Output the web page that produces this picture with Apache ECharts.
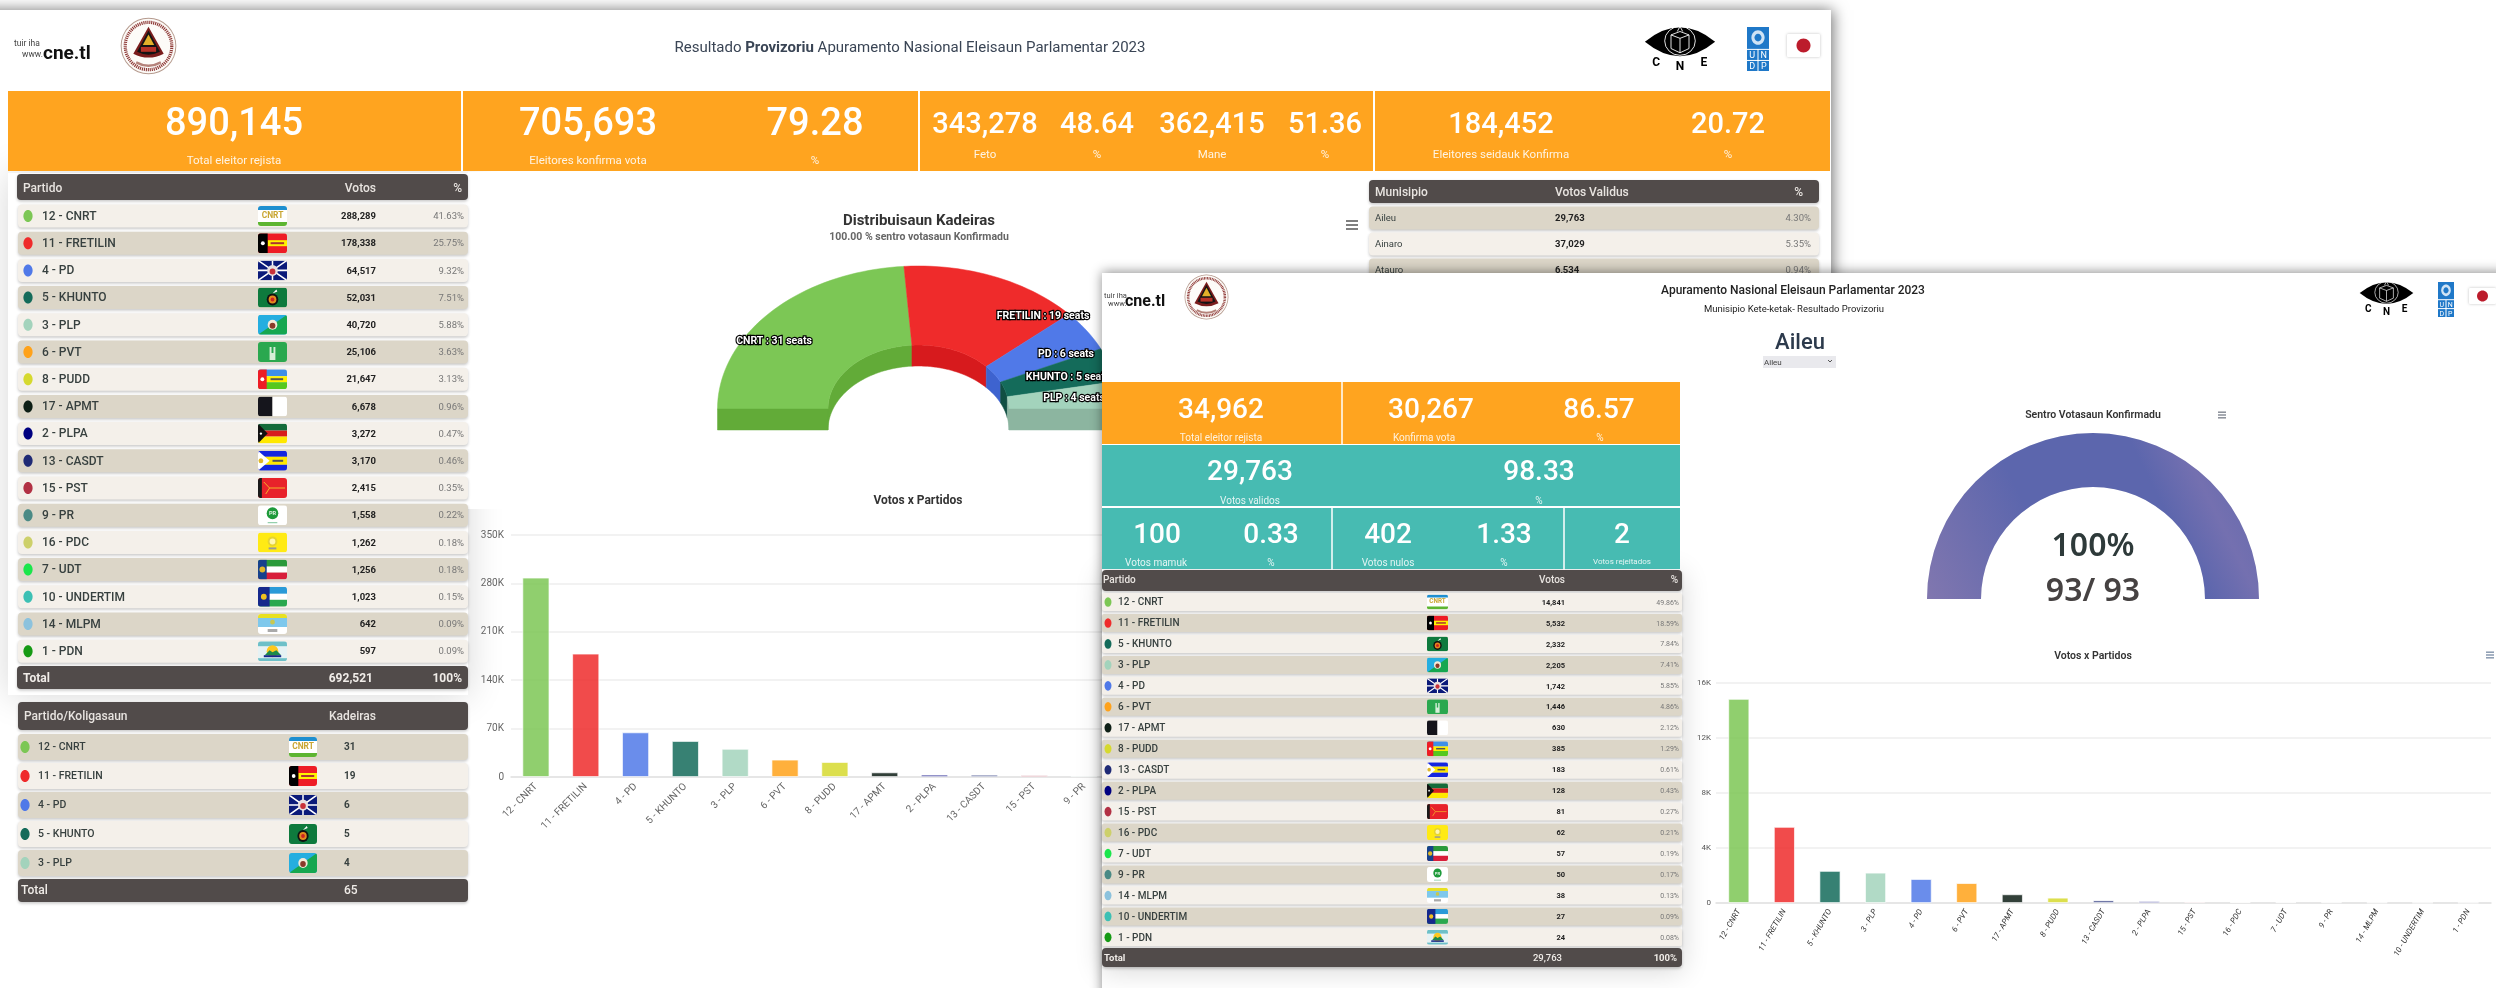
<!DOCTYPE html>
<html>
<head>
<meta charset="utf-8">
<title>Resultado Provizoriu</title>
<script src="https://cdn.jsdelivr.net/npm/echarts@6/dist/echarts.min.js"></script>
<style>
  html, body { margin: 0; background: #fff; }
  #main { width: 2496px; height: 988px; }
</style>
</head>
<body>
<div id="main"></div>
<script>
// national table
const parties = ['12 - CNRT', '11 - FRETILIN', '4 - PD', '5 - KHUNTO', '3 - PLP', '6 - PVT', '8 - PUDD', '17 - APMT', '2 - PLPA', '13 - CASDT', '15 - PST', '9 - PR', '16 - PDC', '7 - UDT', '10 - UNDERTIM', '14 - MLPM', '1 - PDN']
const votes = [288289, 178338, 64517, 52031, 40720, 25106, 21647, 6678, 3272, 3170, 2415, 1558, 1262, 1256, 1023, 642, 597]
const votesPct = ['41.63%', '25.75%', '9.32%', '7.51%', '5.88%', '3.63%', '3.13%', '0.96%', '0.47%', '0.46%', '0.35%', '0.22%', '0.18%', '0.18%', '0.15%', '0.09%', '0.09%']
const votesTotal = ['692,521', '100%']

// seats
const seatParties = ['12 - CNRT', '11 - FRETILIN', '4 - PD', '5 - KHUNTO', '3 - PLP']
const seats = [31, 19, 6, 5, 4]
const seatLabels = ['CNRT', 'FRETILIN', 'PD', 'KHUNTO', 'PLP']
const seatsTotal = '65'

// municipio table, cut off by the second window
const municipios = ['Aileu', 'Ainaro', 'Atauro']
const municipioVotes = ['29,763', '37,029', '6,534']
const municipioPct = ['4.30%', '5.35%', '0.94%']

// Aileu table
const aileuParties = ['12 - CNRT', '11 - FRETILIN', '5 - KHUNTO', '3 - PLP', '4 - PD', '6 - PVT', '17 - APMT', '8 - PUDD', '13 - CASDT', '2 - PLPA', '15 - PST', '16 - PDC', '7 - UDT', '9 - PR', '14 - MLPM', '10 - UNDERTIM', '1 - PDN']
const aileuVotes = [14841, 5532, 2332, 2205, 1742, 1446, 630, 385, 183, 128, 81, 62, 57, 50, 38, 27, 24]
const aileuPct = ['49.86%', '18.59%', '7.84%', '7.41%', '5.85%', '4.86%', '2.12%', '1.29%', '0.61%', '0.43%', '0.27%', '0.21%', '0.19%', '0.17%', '0.13%', '0.09%', '0.08%']
const aileuTotal = ['29,763', '100%']
const centrosDone = 93
const centrosAll = 93

// header cards
const nationalValues = ['890,145', '705,693', '79.28', '343,278', '48.64', '362,415', '51.36', '184,452', '20.72']
const nationalLabels = ['Total eleitor rejista', 'Eleitores konfirma vota', '%', 'Feto', '%', 'Mane', '%', 'Eleitores seidauk Konfirma', '%']
const aileuValues = ['34,962', '30,267', '86.57', '29,763', '98.33', '100', '0.33', '402', '1.33', '2']
const aileuLabels = ['Total eleitor rejista', 'Konfirma vota', '%', 'Votos validos', '%', 'Votos mamuk', '%', 'Votos nulos', '%', 'Votos rejeitados']

const partyColors = {
  '12 - CNRT': '#7cc755', '11 - FRETILIN': '#ef2b2b', '4 - PD': '#5079e8', '5 - KHUNTO': '#146b5a', '3 - PLP': '#a3d3bc',
  '6 - PVT': '#ffa21a', '8 - PUDD': '#d6d92e', '17 - APMT': '#0e1f16', '2 - PLPA': '#000080', '13 - CASDT': '#1f2a75',
  '15 - PST': '#b23144', '9 - PR': '#4a8a85', '16 - PDC': '#cdd06a', '7 - UDT': '#1be64b', '10 - UNDERTIM': '#3cc0b4',
  '14 - MLPM': '#8cc2dd', '1 - PDN': '#169a14'
}
const seatDark = ['#62ab38', '#d71a1d', '#3e63cf', '#114f42', '#8cb5a0']

const FONT = 'Roboto, sans-serif'
const ORANGE = '#ffa41f'
const TEAL = '#47bbb2'
const DARK = '#514b4a'
const LIGHT_ROW = '#f4f0ea'
const BEIGE_ROW = '#dcd6c8'
const Z1 = 2    // first window content
const ZP = 20   // second window background
const Z2 = 22   // second window content

const fmt = (n) => n.toLocaleString('en-US')
const f = (weight, size) => weight + ' ' + size + 'px ' + FONT
const rowShadow = { shadowBlur: 3, shadowOffsetY: 1.5, shadowColor: 'rgba(0,0,0,0.22)' }

const els = []
function box(x, y, w, h, fill, z, r, extra) {
  els.push({ type: 'rect', z, silent: true, shape: { x, y, width: w, height: h, r: r || 0 }, style: Object.assign({ fill }, extra) })
}
function txt(x, y, text, font, fill, align, z, extra) {
  els.push({ type: 'text', z, silent: true, x, y: y + 0.8, style: Object.assign({ text, font, fill, align: align || 'left', textAlign: align || 'left', verticalAlign: 'middle', textVerticalAlign: 'middle' }, extra) })
}
function dot(x, y, rx, ry, fill, z) {
  els.push({ type: 'ellipse', z, silent: true, shape: { cx: x, cy: y, rx, ry }, style: { fill } })
}
function img(x, y, w, h, image, z) {
  els.push({ type: 'image', z, silent: true, style: { image, x, y, width: w, height: h } })
}
function burger(cx, cy, w, gap, color, z) {
  [-gap, 0, gap].forEach((d) => box(cx - w / 2, cy + d - 0.75, w, 1.5, color, z))
}

// ---- small pictures (flags and emblems)
const rc = (x, y, w, h, c) => `<rect x='${x}' y='${y}' width='${w}' height='${h}' fill='${c}'/>`
const ci = (x, y, r, c) => `<circle cx='${x}' cy='${y}' r='${r}' fill='${c}'/>`
const pg = (p, c) => `<polygon points='${p}' fill='${c}'/>`
const svgUrl = (body, w, h, vb) => 'data:image/svg+xml;utf8,' + encodeURIComponent(`<svg xmlns='http://www.w3.org/2000/svg' width='${w}' height='${h}' viewBox='${vb}' preserveAspectRatio='none'>${body}</svg>`)
const flagUrl = (body) => svgUrl(`<clipPath id='c'><rect width='30' height='20' rx='3'/></clipPath><g clip-path='url(#c)'>${body}</g>`, 120, 80, '0 0 30 20')
const flags = {
  '12 - CNRT': flagUrl(rc(0, 0, 30, 20, '#fff') + rc(0, 0, 30, 4, '#1e8fd0') + rc(0, 16, 30, 4, '#5db531')),
  '11 - FRETILIN': flagUrl(rc(0, 0, 30, 20, '#ee1c25') + rc(10, 7, 20, 6, '#fff200') + rc(0, 0, 10, 20, '#000') + ci(5, 10, 2, '#fff') + rc(13, 9, 14, 2, '#a33')),
  '4 - PD': flagUrl(rc(0, 0, 30, 20, '#0b1a7a') + `<path d='M0 0L30 20M30 0L0 20M15 0V20M0 10H30' stroke='#fff' stroke-width='1.6'/>` + ci(15, 10, 5.5, '#e8e0e0') + ci(15, 11, 3, '#c8323a')),
  '5 - KHUNTO': flagUrl(rc(0, 0, 30, 20, '#0e7a3d') + ci(15, 12, 6, '#111') + ci(15, 12, 4, '#e28a1e') + ci(15, 12, 2, '#c22') + pg('15,6 19,2 20,4', '#fff')),
  '3 - PLP': flagUrl(rc(0, 0, 30, 20, '#25aee0') + pg('30,0 30,20 0,20', '#16a750') + ci(15, 10, 5, '#f4ead8') + ci(15, 11, 3, '#8a3a2a')),
  '6 - PVT': flagUrl(rc(0, 0, 30, 20, '#2aa84f') + rc(12, 5, 6, 13, '#d6efd8') + rc(14, 3, 2, 8, '#2aa84f')),
  '8 - PUDD': flagUrl(rc(0, 0, 30, 7, '#3f8fe8') + rc(0, 7, 30, 6, '#fff200') + rc(0, 13, 30, 7, '#55c81e') + rc(0, 0, 9, 20, '#ee1c25') + ci(4.5, 10, 2, '#fff') + rc(13, 9, 13, 2, '#555')),
  '17 - APMT': flagUrl(rc(0, 0, 15, 20, '#15151c') + rc(15, 0, 15, 20, '#fff')),
  '2 - PLPA': flagUrl(rc(0, 0, 30, 7, '#146b3a') + rc(0, 7, 30, 6, '#d81e1e') + rc(0, 13, 30, 7, '#ffe800') + pg('0,0 10,10 0,20', '#111') + ci(3, 10, 1.2, '#fff')),
  '13 - CASDT': flagUrl(rc(0, 0, 30, 6, '#1426e0') + rc(0, 6, 30, 8, '#ffe800') + rc(0, 14, 30, 6, '#1426e0') + pg('0,0 12,10 0,20', '#fff') + ci(3, 10, 2.5, '#e0b82a') + rc(15, 9, 11, 2, '#555')),
  '15 - PST': flagUrl(rc(0, 0, 30, 20, '#e8222a') + rc(0, 0, 4, 20, '#1a1a1a') + `<path d='M6 4L12 10L8 16M12 10H28' stroke='#f5b52a' stroke-width='1' fill='none'/>`),
  '9 - PR': flagUrl(rc(0, 0, 30, 20, '#fff') + ci(15, 8, 6, '#1e9a3a') + rc(10, 17, 10, 1, '#7cc59a')),
  '16 - PDC': flagUrl(rc(0, 0, 30, 20, '#ffea14') + ci(15, 9, 5, '#e6d430') + ci(15, 9, 3, '#fff7b0') + rc(11, 15, 8, 2, '#999')),
  '7 - UDT': flagUrl(rc(0, 0, 30, 7, '#2a9a3a') + rc(0, 7, 30, 6, '#fff') + rc(0, 13, 30, 7, '#d81e3a') + rc(0, 0, 9, 20, '#16418c') + ci(4.5, 10, 3, '#e0b82a')),
  '10 - UNDERTIM': flagUrl(rc(0, 0, 30, 7, '#2a9ad8') + rc(0, 7, 30, 6, '#fff') + rc(0, 13, 30, 7, '#2aa84f') + rc(0, 0, 12, 20, '#16288c') + ci(6, 10, 3, '#f0c020')),
  '14 - MLPM': flagUrl(rc(0, 0, 30, 20, '#fff') + rc(0, 0, 30, 4, '#e8e020') + rc(0, 4, 30, 9, '#7ec8ec') + ci(15, 8, 2.5, '#c8c850') + rc(10, 15, 10, 3, '#aaa')),
  '1 - PDN': flagUrl(rc(0, 0, 30, 20, '#e6f2f4') + rc(0, 0, 30, 5, '#6dc0c8') + ci(15, 10, 6, '#ffc81e') + pg('7,14 12,9 15,11 19,9 24,14', '#1e8a4a') + rc(6, 14, 18, 2, '#16288c') + rc(0, 17, 30, 3, '#6dc0c8'))
}
const sealUrl = svgUrl(ci(30, 30, 29.3, '#b59a8e') + ci(30, 30, 28.3, '#fdfbf8') + `<circle cx='30' cy='30' r='24.5' fill='none' stroke='#8f3b38' stroke-width='3.4' stroke-dasharray='1.2 0.9'/>` + `<path d='M30 10L46 38Q30 46 14 38Z' fill='#7a1c1c'/><path d='M30 14L42 36Q30 42 18 36Z' fill='#141414'/>` + pg('30,18 36,29 24,29', '#e3b02a') + rc(22, 31, 16, 5, '#b83228') + `<path d='M17 47Q30 54 43 47' stroke='#b5827a' stroke-width='2.5' fill='none'/>`, 240, 240, '0 0 60 60')
const eyeUrl = svgUrl(`<path d='M1 22Q40 -12 79 22Q40 56 1 22Z' fill='#000'/><circle cx='40' cy='21' r='17' fill='none' stroke='#fff' stroke-width='1'/><path d='M30 14L40 10L50 14V30L40 35L30 30ZM30 14L40 18L50 14M40 18V35M37 10L40 4L43 10' stroke='#fff' stroke-width='1' fill='none'/>`, 320, 176, '0 0 80 44')

function undp(x, y, w, h, fs, z) {
  const top = h * 0.52, g = 1
  box(x, y, w, top - g, '#1f78c8', z)
  dot(x + w / 2, y + top * 0.46, w * 0.3, top * 0.32, '#cfe3f5', z + 1)
  dot(x + w / 2, y + top * 0.46, w * 0.16, top * 0.17, '#1f78c8', z + 1)
  const cw = (w - g) / 2, ch = (h - top - g) / 2
  ;['U', 'N', 'D', 'P'].forEach((c, i) => {
    const cx = x + (i % 2) * (cw + g), cy = y + top + (i > 1 ? ch + g : 0)
    box(cx, cy, cw, ch, '#1f78c8', z)
    txt(cx + cw / 2, cy + ch / 2, c, f(400, fs), '#fff', 'center', z + 1)
  })
}
function eye(x, y, w, h, fs, z) {
  img(x, y, w, h * 0.78, eyeUrl, z)
  const ly = y + h * 0.88
  txt(x + w * 0.17, ly - h * 0.06, 'C', f(700, fs), '#000', 'center', z)
  txt(x + w * 0.5, ly + h * 0.02, 'N', f(700, fs), '#000', 'center', z)
  txt(x + w * 0.83, ly - h * 0.06, 'E', f(700, fs), '#000', 'center', z)
}
function japan(x, y, w, h, r, z) {
  box(x, y, w, h, '#fff', z, 1, { shadowBlur: 3, shadowColor: 'rgba(0,0,0,0.25)' })
  dot(x + w / 2, y + h / 2, r, r, '#bc1c2c', z + 1)
}
function flag(name, x, cy, w, h, z) {
  img(x, cy - h / 2, w, h, flags[name], z)
  if (name === '12 - CNRT') txt(x + w / 2, cy - 1, 'CNRT', f(700, h * 0.42), '#c9a632', 'center', z + 1)
  if (name === '9 - PR') txt(x + w / 2, cy - h * 0.12, 'PR', f(700, h * 0.28), '#dff2e2', 'center', z + 1)
}

// ---- windows
box(-30, 10, 1861, 1100, '#fff', 0, 0, { shadowBlur: 14, shadowOffsetX: 2, shadowColor: 'rgba(0,0,0,0.55)' })
box(8, 173, 460, 522, '#fff', 1, 0, { shadowBlur: 34, shadowColor: 'rgba(0,0,0,0.16)' })
box(468, 172, 640, 337, '#fff', 1)
box(1102, 273, 1420, 800, '#fff', ZP, 0, { shadowBlur: 11, shadowOffsetY: -1, shadowColor: 'rgba(0,0,0,0.45)' })
box(1102, 570, 580, 397, '#fff', ZP + 1, 0, { shadowBlur: 26, shadowOffsetY: 4, shadowColor: 'rgba(0,0,0,0.16)' })

// ---- first window header
txt(14, 43, 'tuir iha', f(400, 8.5), '#444', 'left', Z1)
txt(22, 54, 'www.', f(400, 8.5), '#444', 'left', Z1)
txt(43, 53, 'cne.tl', f(700, 19), '#111', 'left', Z1)
img(120, 17, 57, 58, sealUrl, Z1)
txt(910, 47, '{a|Resultado }{b|Provizoriu}{a| Apuramento Nasional Eleisaun Parlamentar 2023}', f(400, 15), '#3a4555', 'center', Z1, {
  rich: { a: { font: f(400, 15), fill: '#3a4555' }, b: { font: f(700, 15), fill: '#3a4555' } }
})
eye(1644, 23, 72, 48, 12, Z1)
undp(1747, 27, 22, 44, 9, Z1)
japan(1787, 34, 33, 23, 7, Z1)

// ---- first window orange band
box(8, 91, 1822, 80, ORANGE, Z1)
;[462, 919, 1374].forEach((x) => box(x - 1, 91, 2, 80, '#fff', Z1))
const nationalX = [234, 588, 815, 985, 1097, 1212, 1325, 1501, 1728]
nationalValues.forEach((v, i) => {
  const big = i < 3
  txt(nationalX[i], 125, v, f(500, big ? 38 : 29), '#fff', 'center', Z1)
  txt(nationalX[i], big ? 160 : 154, nationalLabels[i], f(400, 11.5), 'rgba(255,255,255,0.88)', 'center', Z1)
})

// ---- party table
box(17, 174, 451, 26, DARK, Z1, 4, rowShadow)
txt(23, 188, 'Partido', f(500, 12), '#e8e4e0', 'left', Z1)
txt(376, 188, 'Votos', f(500, 12), '#e8e4e0', 'right', Z1)
txt(462, 188, '%', f(500, 12), '#e8e4e0', 'right', Z1)
parties.forEach((p, i) => {
  const y = 216 + i * 27.2
  box(18, y - 11.5, 450, 23, i % 2 ? BEIGE_ROW : LIGHT_ROW, Z1, 4, rowShadow)
  dot(28, y, 4.6, 6, partyColors[p], Z1)
  txt(42, y, p, f(500, 12), '#37403f', 'left', Z1)
  flag(p, 258, y, 29, 20, Z1)
  txt(376, y, fmt(votes[i]), f(700, 9.5), '#222', 'right', Z1)
  txt(464, y, votesPct[i], f(400, 9.5), '#777', 'right', Z1)
})
box(17, 666, 451, 23, DARK, Z1, 4, rowShadow)
txt(23, 678, 'Total', f(700, 12), '#f0ece8', 'left', Z1)
txt(373, 678, votesTotal[0], f(700, 12), '#f0ece8', 'right', Z1)
txt(462, 678, votesTotal[1], f(700, 12), '#f0ece8', 'right', Z1)

// ---- seats table
box(18, 702, 450, 28, DARK, Z1, 4, rowShadow)
txt(24, 716, 'Partido/Koligasaun', f(500, 12), '#e8e4e0', 'left', Z1)
txt(329, 716, 'Kadeiras', f(500, 12), '#e8e4e0', 'left', Z1)
seatParties.forEach((p, i) => {
  const y = 747 + i * 29
  box(18, y - 13, 450, 26, i % 2 ? LIGHT_ROW : BEIGE_ROW, Z1, 4, rowShadow)
  dot(25, y, 4.6, 6, partyColors[p], Z1)
  txt(38, y, p, f(500, 10.5), '#37403f', 'left', Z1)
  flag(p, 289, y, 28, 20, Z1)
  txt(344, y, String(seats[i]), f(700, 10), '#37403f', 'left', Z1)
})
box(18, 879, 450, 23, DARK, Z1, 4, rowShadow)
txt(21, 890, 'Total', f(500, 12), '#f0ece8', 'left', Z1)
txt(344, 890, seatsTotal, f(500, 12), '#f0ece8', 'left', Z1)

// ---- municipio table
box(1369, 180, 450, 23, DARK, Z1, 4, rowShadow)
txt(1375, 192, 'Munisipio', f(500, 12), '#e8e4e0', 'left', Z1)
txt(1555, 192, 'Votos Validus', f(500, 12), '#e8e4e0', 'left', Z1)
txt(1803, 192, '%', f(500, 12), '#e8e4e0', 'right', Z1)
municipios.forEach((m, i) => {
  const y = 218 + i * 26
  box(1369, y - 11.5, 450, 23, i % 2 ? LIGHT_ROW : BEIGE_ROW, Z1, 4, rowShadow)
  txt(1375, y, m, f(400, 9.5), '#37403f', 'left', Z1)
  txt(1555, y, municipioVotes[i], f(700, 9.5), '#222', 'left', Z1)
  txt(1811, y, municipioPct[i], f(400, 9.5), '#777', 'right', Z1)
})
burger(1352, 225, 12, 4, '#555', Z1)

// ---- second window header
txt(1104, 295, 'tuir iha', f(400, 7.5), '#444', 'left', Z2)
txt(1108, 303, 'www.', f(400, 7.5), '#444', 'left', Z2)
txt(1125, 301, 'cne.tl', f(700, 16), '#111', 'left', Z2)
img(1184, 274, 45, 46, sealUrl, Z2)
txt(1793, 290, 'Apuramento Nasional Eleisaun Parlamentar 2023', f(500, 12), '#222', 'center', Z2)
txt(1794, 309, 'Munisipio Kete-ketak- Resultado Provizoriu', f(400, 9.5), '#222', 'center', Z2)
eye(2359, 279, 55, 36, 10, Z2)
undp(2438, 282, 16, 35, 7, Z2)
japan(2469, 288, 27, 16, 5.5, Z2)
txt(1800, 343, 'Aileu', f(500, 22), '#2c3a4c', 'center', Z2)
box(1763, 356, 73, 12, '#e9e9ed', Z2)
txt(1764, 362, 'Aileu', f(400, 8), '#444', 'left', Z2)
els.push({ type: 'polyline', z: Z2, silent: true, shape: { points: [[1828, 360], [1830, 362], [1832, 360]] }, style: { stroke: '#555', lineWidth: 1, fill: 'none' } })
burger(2222, 415, 8, 2.8, '#8a8f98', Z2)
burger(2490, 655, 8, 2.8, '#8a9ab0', Z2)

// ---- second window cards
box(1102, 382, 578, 62, ORANGE, Z2)
box(1102, 445, 578, 61, TEAL, Z2)
box(1102, 508, 578, 61, TEAL, Z2)
;[[1342, 382], [1332, 508], [1564, 508]].forEach((d) => box(d[0] - 0.75, d[1], 1.5, 62, '#fff', Z2))
const aileuValueX = [1221, 1431, 1599, 1250, 1539, 1157, 1271, 1388, 1504, 1622]
const aileuLabelX = [1221, 1424, 1600, 1250, 1539, 1156, 1271, 1388, 1504, 1622]
const aileuValueY = [410, 410, 410, 472, 472, 535, 535, 535, 535, 535]
const aileuLabelY = [438, 438, 438, 501, 501, 563, 563, 563, 563, 561]
aileuValues.forEach((v, i) => {
  txt(aileuValueX[i], aileuValueY[i], v, f(500, 28), '#fff', 'center', Z2)
  txt(aileuLabelX[i], aileuLabelY[i], aileuLabels[i], f(400, i === 9 ? 8 : 10), 'rgba(255,255,255,0.85)', 'center', Z2)
})

// ---- Aileu table
box(1102, 570, 580, 21, DARK, Z2, 4, rowShadow)
txt(1103, 580, 'Partido', f(500, 10), '#e8e4e0', 'left', Z2)
txt(1565, 580, 'Votos', f(500, 10), '#e8e4e0', 'right', Z2)
txt(1678, 580, '%', f(500, 10), '#e8e4e0', 'right', Z2)
aileuParties.forEach((p, i) => {
  const y = 602 + i * 20.96
  box(1102, y - 9, 580, 18, i % 2 ? BEIGE_ROW : LIGHT_ROW, Z2, 2, rowShadow)
  dot(1108, y, 3.5, 4.8, partyColors[p], Z2)
  txt(1118, y, p, f(500, 10), '#37403f', 'left', Z2)
  flag(p, 1427, y, 21, 15, Z2)
  txt(1565, y, fmt(aileuVotes[i]), f(700, 7.5), '#222', 'right', Z2)
  txt(1679, y, aileuPct[i], f(400, 7), '#777', 'right', Z2)
})
box(1102, 948, 580, 19, DARK, Z2, 4, rowShadow)
txt(1104, 958, 'Total', f(700, 9.5), '#f0ece8', 'left', Z2)
txt(1562, 958, aileuTotal[0], f(500, 9.5), '#f0ece8', 'right', Z2)
txt(1677, 958, aileuTotal[1], f(700, 9.5), '#f0ece8', 'right', Z2)

// ---- 3D half pie: ellipse squashed like the tilted original
const PIE = { cx: 918.5, cy: 409, rx: 201, ry: 143, irx: 90.5, iry: 64, depth: 21 }
const seatLabelPos = [[774, 341], [1043, 316], [1066, 354], [1068, 377], [1074, 398]]
const seatSum = seats.reduce((a, b) => a + b, 0)
const onArc = (rx, ry, cy, deg) => [PIE.cx + rx * Math.cos(deg * Math.PI / 180), cy - ry * Math.sin(deg * Math.PI / 180)]
function arcPts(rx, ry, cy, a0, a1) {
  const pts = []
  const n = Math.max(2, Math.ceil(Math.abs(a0 - a1) / 2))
  for (let k = 0; k <= n; k++) pts.push(onArc(rx, ry, cy, a0 + (a1 - a0) * k / n))
  return pts
}
function renderSeat(params, api) {
  const i = params.dataIndex
  const before = seats.slice(0, i).reduce((a, b) => a + b, 0)
  const a0 = 180 - before / seatSum * 180
  const a1 = a0 - api.value(0) / seatSum * 180
  const color = partyColors[seatParties[i]]
  const dark = seatDark[i]
  const poly = (points, fill) => ({ type: 'polygon', shape: { points }, style: { fill, stroke: fill, lineWidth: 0.5 } })
  const children = [
    poly(arcPts(PIE.irx, PIE.iry, PIE.cy, a0, a1).concat(arcPts(PIE.irx, PIE.iry, PIE.cy + PIE.depth, a1, a0)), dark),
    poly(arcPts(PIE.rx, PIE.ry, PIE.cy, a0, a1).concat(arcPts(PIE.irx, PIE.iry, PIE.cy, a1, a0)), color)
  ]
  // flat end faces of the half ring
  ;[[i === 0, 180], [i === seats.length - 1, 0]].forEach((e) => {
    if (!e[0]) return
    const o = onArc(PIE.rx, PIE.ry, PIE.cy, e[1]), n = onArc(PIE.irx, PIE.iry, PIE.cy, e[1])
    children.push(poly([o, n, [n[0], n[1] + PIE.depth], [o[0], o[1] + PIE.depth]], dark))
  })
  children.push({
    type: 'text', z2: 10, x: seatLabelPos[i][0], y: seatLabelPos[i][1],
    style: { text: seatLabels[i] + ' : ' + api.value(0) + ' seats', font: f(700, 10.5), fill: '#fff', stroke: '#000', lineWidth: 2.4, align: 'center', textAlign: 'center', verticalAlign: 'middle', textVerticalAlign: 'middle' }
  })
  return { type: 'group', children }
}

const kLabel = (v) => (v ? v / 1000 + 'K' : '0')
const option = {
  animation: false,
  backgroundColor: '#fff',
  graphic: { elements: els },
  title: [
    { text: 'Distribuisaun Kadeiras', subtext: '100.00 % sentro votasaun Konfirmadu', left: 919, top: 212, textAlign: 'center', itemGap: 1, padding: 0, z: Z1,
      textStyle: { fontFamily: FONT, fontSize: 15, fontWeight: 700, color: '#333', lineHeight: 18 },
      subtextStyle: { fontFamily: FONT, fontSize: 10.5, fontWeight: 700, color: '#666', lineHeight: 12 } },
    { text: 'Votos x Partidos', left: 918, top: 494, textAlign: 'center', padding: 0, z: Z1,
      textStyle: { fontFamily: FONT, fontSize: 12, fontWeight: 700, color: '#333', lineHeight: 14 } },
    { text: 'Sentro Votasaun Konfirmadu', left: 2093, top: 409, textAlign: 'center', padding: 0, z: Z2,
      textStyle: { fontFamily: FONT, fontSize: 10.5, fontWeight: 600, color: '#333', lineHeight: 12 } },
    { text: 'Votos x Partidos', left: 2093, top: 650, textAlign: 'center', padding: 0, z: Z2,
      textStyle: { fontFamily: FONT, fontSize: 10.5, fontWeight: 600, color: '#333', lineHeight: 12 } }
  ],
  grid: [
    { left: 511, right: 1138, top: 535, bottom: 211 },
    { left: 1716, right: 5, top: 683, bottom: 85 }
  ],
  xAxis: [
    { type: 'category', gridIndex: 0, data: parties, z: Z1,
      axisLine: { lineStyle: { color: '#e2e2e2', width: 1.5 } }, axisTick: { lineStyle: { color: '#dcdcdc' }, length: 6 },
      axisLabel: { interval: 0, rotate: 45, margin: 8, fontFamily: FONT, fontSize: 10, color: '#666' } },
    { type: 'category', gridIndex: 1, data: aileuParties, z: Z2,
      axisLine: { lineStyle: { color: '#e2e2e2', width: 1.5 } }, axisTick: { lineStyle: { color: '#dcdcdc' }, length: 5 },
      axisLabel: { interval: 0, rotate: 60, margin: 7, fontFamily: FONT, fontSize: 8, fontStyle: 'italic', color: '#333' } }
  ],
  yAxis: [
    { type: 'value', gridIndex: 0, min: 0, max: 350000, interval: 70000, z: Z1,
      axisLine: { show: false }, axisTick: { show: false }, splitLine: { lineStyle: { color: '#eeeeee', width: 1.5 } },
      axisLabel: { formatter: kLabel, margin: 7, fontFamily: FONT, fontSize: 10, color: '#666' } },
    { type: 'value', gridIndex: 1, min: 0, max: 16000, interval: 4000, z: Z2,
      axisLine: { show: false }, axisTick: { show: false }, splitLine: { lineStyle: { color: '#eeeeee', width: 1.5 } },
      axisLabel: { formatter: kLabel, margin: 5, fontFamily: FONT, fontSize: 8, color: '#555' } }
  ],
  series: [
    { type: 'bar', xAxisIndex: 0, yAxisIndex: 0, barWidth: 27, z: Z1 + 1, silent: true,
      data: votes.map((v, i) => ({ value: v, itemStyle: { color: partyColors[parties[i]], opacity: 0.85, borderColor: '#fff', borderWidth: 0.8 } })) },
    { type: 'bar', xAxisIndex: 1, yAxisIndex: 1, barWidth: 21, z: Z2 + 1, silent: true,
      data: aileuVotes.map((v, i) => ({ value: v, itemStyle: { color: partyColors[aileuParties[i]], opacity: 0.85, borderColor: '#fff', borderWidth: 0.8 } })) },
    { type: 'custom', coordinateSystem: 'none', renderItem: renderSeat, z: Z1 + 1, silent: true, data: seats.map((v) => [v]) },
    { type: 'gauge', center: [2093, 599], radius: 166, startAngle: 180, endAngle: 0, min: 0, max: centrosAll, z: Z2 + 1, silent: true,
      pointer: { show: false }, axisTick: { show: false }, splitLine: { show: false }, axisLabel: { show: false }, title: { show: false },
      axisLine: { lineStyle: { width: 54, color: [[1, '#eeeeee']] } },
      progress: { show: true, width: 54, itemStyle: { color: new echarts.graphic.LinearGradient(0, 1, 1, 0, [
        { offset: 0, color: '#8177af' }, { offset: 0.35, color: '#5c66ad' }, { offset: 0.68, color: '#5c66ad' },
        { offset: 0.8, color: '#7470b0' }, { offset: 1, color: '#5c66ad' }]) } },
      detail: { offsetCenter: [0, -30], fontFamily: FONT,
        formatter: (v) => '{a|' + Math.round(v / centrosAll * 100) + '%}\n{b|' + v + '/ ' + centrosAll + '}',
        rich: { a: { fontFamily: 'Noto Sans', fontSize: 32, fontWeight: 600, color: '#2e3a3a', lineHeight: 45 },
                b: { fontFamily: 'Noto Sans', fontSize: 32, fontWeight: 600, color: '#464242', lineHeight: 45 } } },
      data: [{ value: centrosDone }] }
  ]
}

const chart = echarts.init(document.getElementById('main'))
chart.setOption(option)
window.addEventListener('resize', () => chart.resize())
</script>
</body>
</html>
